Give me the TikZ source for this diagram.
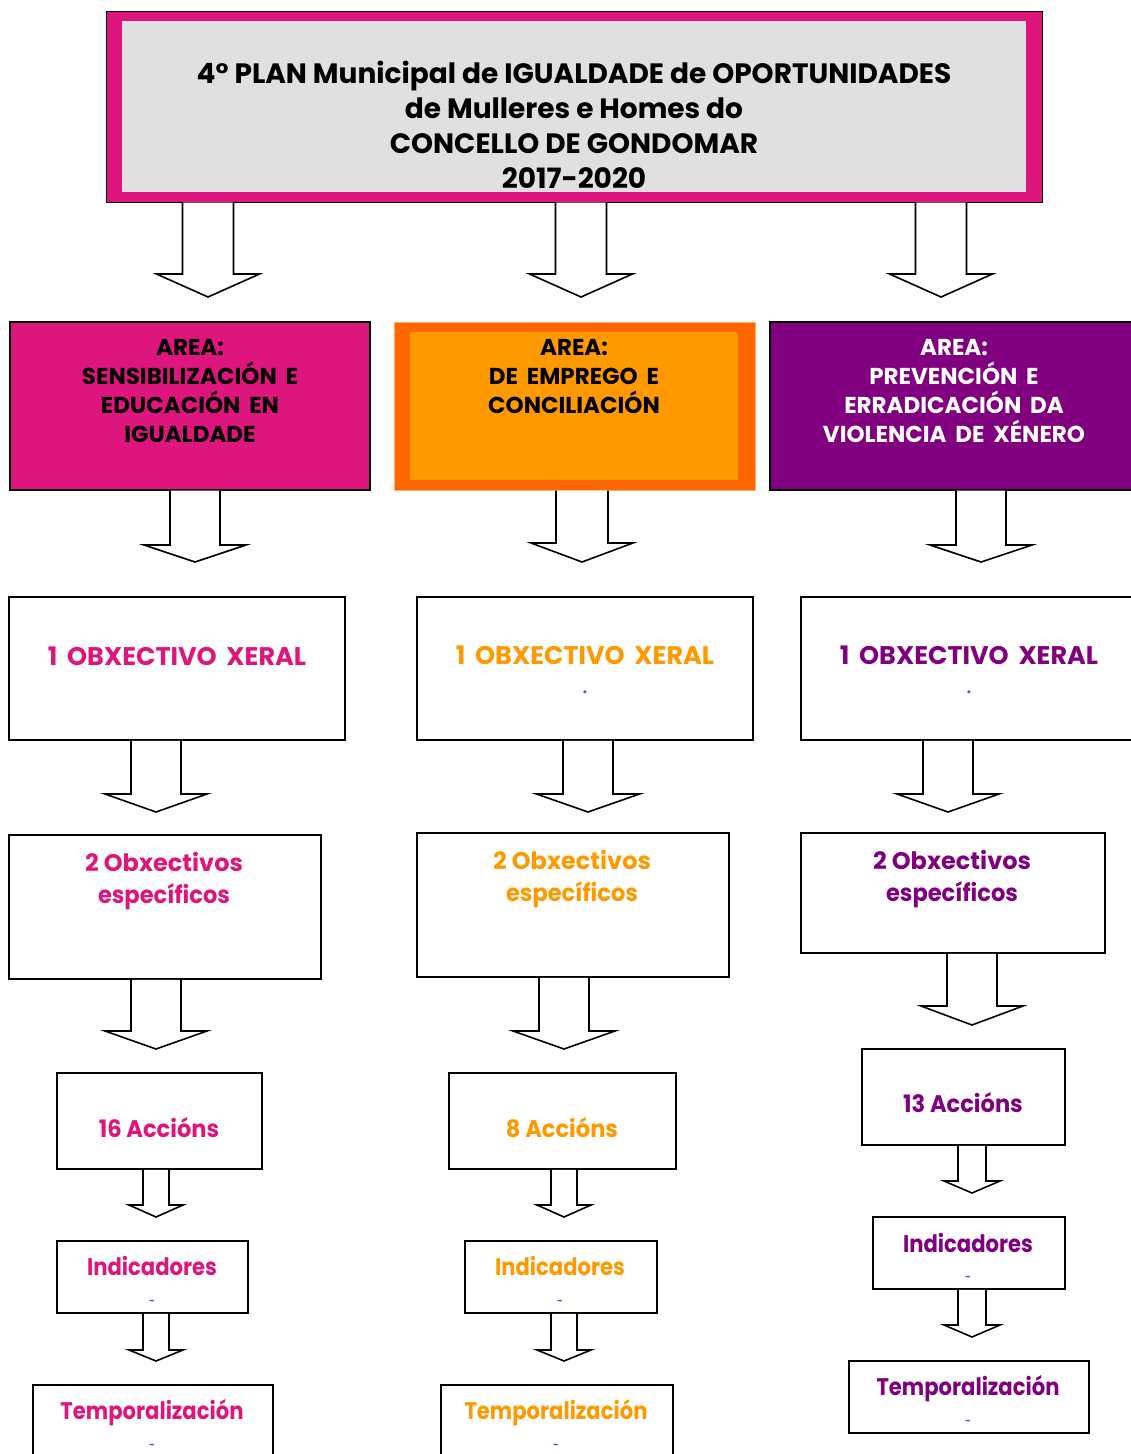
\documentclass[tikz,border=0pt]{standalone}
\usepackage{fontspec}
\setmainfont{Poppins}
\newfontfamily\widesp[WordSpace=1.8]{Poppins}
\newfontfamily\narrowf[FakeStretch=0.88]{Poppins}
\newfontfamily\semnarrow[FakeStretch=0.94]{Poppins}
\usetikzlibrary{calc}
\definecolor{mag}{HTML}{DE157C}
\definecolor{org}{HTML}{FF9900}
\definecolor{orgdark}{HTML}{FF6600}
\definecolor{orgline}{HTML}{FFB060}
\definecolor{pur}{HTML}{800080}
\definecolor{greyin}{HTML}{E0E0E0}
\definecolor{dotblue}{HTML}{3060F0}
\tikzset{
  box/.style={rectangle, draw=black, line width=1.8pt, fill=white, inner sep=0pt},
  blockarrow/.style={draw=black, line width=1.6pt, fill=white, line join=miter},
  txt/.style={anchor=base, inner sep=0pt, font=\bfseries\fontsize{24}{24}\selectfont},
  nar/.style={txt, font=\narrowf\bfseries\fontsize{24}{24}\selectfont},
  act/.style={txt, font=\semnarrow\bfseries\fontsize{24}{24}\selectfont},
  ttl/.style={txt, font=\bfseries\fontsize{28}{28}\selectfont, text=black},
  area/.style={txt, font=\widesp\bfseries\fontsize{23}{23}\selectfont},
  obj/.style={txt, font=\widesp\bfseries\fontsize{25.5}{25.5}\selectfont},
  bluedot/.style={inner sep=0pt, text=dotblue, font=\bfseries\fontsize{15}{15}\selectfont},
  bluedash/.style={inner sep=0pt, text=dotblue, font=\bfseries\fontsize{10}{10}\selectfont}
}
\newcommand\bx[6]{\node[#6, minimum width={#4-#2}, minimum height={#5-#3}] (#1) at ({(#2+#4)/2},{(#3+#5)/2}) {};}
\newcommand\tl[5]{\node[#4] (#1) at (#2,#3) {#5};}
\newcommand\barrow[6]{\draw[blockarrow] let \p1=(#1.south) in (#2-#3,\y1) -- (#2-#3,#5) -- (#2-#4,#5) -- (#2,#6) -- (#2+#4,#5) -- (#2+#3,#5) -- (#2+#3,\y1);}
\begin{document}
\begin{tikzpicture}[x=1pt,y=-1pt]
\useasboundingbox (0,0) rectangle (1131,1454);
% title
\bx{title}{106}{11}{1042}{202}{rectangle, draw=black, line width=1pt, fill=mag, inner sep=0pt}
\bx{titlein}{122}{21}{1026}{192}{rectangle, fill=greyin, inner sep=0pt}
\tl{t1}{574}{83}{ttl}{4° PLAN Municipal de IGUALDADE de OPORTUNIDADES}
\tl{t2}{574}{118}{ttl}{de Mulleres e Homes do}
\tl{t3}{574}{153}{ttl}{CONCELLO DE GONDOMAR}
\tl{t4}{574}{188}{ttl}{2017-2020}
% areas
\bx{aL}{10}{322}{370}{490}{box, line width=1.4pt, fill=mag}
\tl{aL1}{190}{355}{area}{AREA:}
\tl{aL2}{190}{384}{area}{SENSIBILIZACIÓN E}
\tl{aL3}{190}{413}{area}{EDUCACIÓN EN}
\tl{aL4}{190}{442}{area}{IGUALDADE}
\bx{aM}{394}{322}{755}{490}{rectangle, draw=orgline, line width=1pt, fill=orgdark, inner sep=0pt}
\bx{aMin}{410}{332}{738}{480}{rectangle, fill=org, inner sep=0pt}
\tl{aM1}{574}{355}{area}{AREA:}
\tl{aM2}{574}{384}{area}{DE EMPREGO E}
\tl{aM3}{574}{413}{area}{CONCILIACIÓN}
\bx{aR}{770}{322}{1140}{490}{box, line width=1.4pt, fill=pur}
\tl{aR1}{954}{355}{area, text=white}{AREA:}
\tl{aR2}{954}{384}{area, text=white}{PREVENCIÓN E}
\tl{aR3}{954}{413}{area, text=white}{ERRADICACIÓN DA}
\tl{aR4}{954}{442}{area, text=white}{VIOLENCIA DE XÉNERO}
% objectives
\bx{oL}{9}{597}{345}{740}{box}
\bx{oM}{417}{597}{753}{740}{box}
\bx{oR}{801}{597}{1140}{740}{box}
\tl{oL1}{177}{665}{obj, text=mag}{1 OBXECTIVO XERAL}
\tl{oM1}{585}{664}{obj, text=org}{1 OBXECTIVO XERAL}
\tl{oR1}{969}{664}{obj, text=pur}{1 OBXECTIVO XERAL}
\node[bluedot] (oMd) at (585,692) {.};
\node[bluedot] (oRd) at (969,692) {.};
% specific objectives
\bx{sL}{9}{835}{321}{979}{box}
\bx{sM}{417}{833}{729}{977}{box}
\bx{sR}{801}{833}{1105}{953}{box}
\tl{sL1}{164}{871}{txt, text=mag}{2 Obxectivos}
\tl{sL2}{164}{903}{act, text=mag}{específicos}
\tl{sM1}{572}{869}{txt, text=org}{2 Obxectivos}
\tl{sM2}{572}{901}{act, text=org}{específicos}
\tl{sR1}{952}{869}{txt, text=pur}{2 Obxectivos}
\tl{sR2}{952}{901}{act, text=pur}{específicos}
% actions
\bx{cL}{57}{1073}{262}{1169}{box}
\bx{cM}{449}{1073}{676}{1169}{box}
\bx{cR}{862}{1049}{1065}{1145}{box}
\tl{cL1}{159}{1137}{act, text=mag}{16 Accións}
\tl{cM1}{562}{1137}{act, text=org}{8 Accións}
\tl{cR1}{963}{1112}{act, text=pur}{13 Accións}
% indicators
\bx{iL}{57}{1241}{248}{1313}{box}
\bx{iM}{465}{1241}{657}{1313}{box}
\bx{iR}{873}{1217}{1065}{1289}{box}
\tl{iL1}{152}{1275}{nar, text=mag}{Indicadores}
\tl{iM1}{560}{1275}{nar, text=org}{Indicadores}
\tl{iR1}{968}{1252}{nar, text=pur}{Indicadores}
\node[bluedash] (iLd) at (152,1302) {-};
\node[bluedash] (iMd) at (560,1302) {-};
\node[bluedash] (iRd) at (968,1278) {-};
% timing
\bx{tL}{33}{1385}{273}{1470}{box}
\bx{tM}{441}{1385}{673}{1470}{box}
\bx{tR}{849}{1361}{1089}{1433}{box}
\tl{tL1}{152}{1419}{nar, text=mag}{Temporalización}
\tl{tM1}{556}{1419}{nar, text=org}{Temporalización}
\tl{tR1}{968}{1395}{nar, text=pur}{Temporalización}
\node[bluedash] (tLd) at (152,1446) {-};
\node[bluedash] (tMd) at (556,1446) {-};
\node[bluedash] (tRd) at (968,1422) {-};
% arrows
\barrow{title}{208}{25.5}{51.5}{274}{297}
\barrow{title}{581}{25.5}{51.5}{274}{297}
\barrow{title}{941}{25.5}{51.5}{274}{297}
\barrow{aL}{195}{25}{51}{545}{562}
\barrow{aM}{582}{26}{51}{543}{562}
\barrow{aR}{981}{25}{51}{545}{562}
\barrow{oL}{156}{25}{51}{794}{812}
\barrow{oM}{588}{25}{51.5}{794}{812}
\barrow{oR}{948}{25}{51}{794}{812}
\barrow{sL}{156}{25}{51}{1031}{1049}
\barrow{sM}{564}{25}{51}{1031}{1049}
\barrow{sR}{972}{25}{51}{1006}{1025}
\barrow{cL}{156}{13}{27}{1205}{1217}
\barrow{cM}{564}{13}{27}{1205}{1217}
\barrow{cR}{972}{14}{28}{1181}{1193}
\barrow{iL}{156}{13}{27}{1350}{1361}
\barrow{iM}{564}{13}{27}{1350}{1361}
\barrow{iR}{972}{14}{28}{1325}{1337}
\end{tikzpicture}
\end{document}
